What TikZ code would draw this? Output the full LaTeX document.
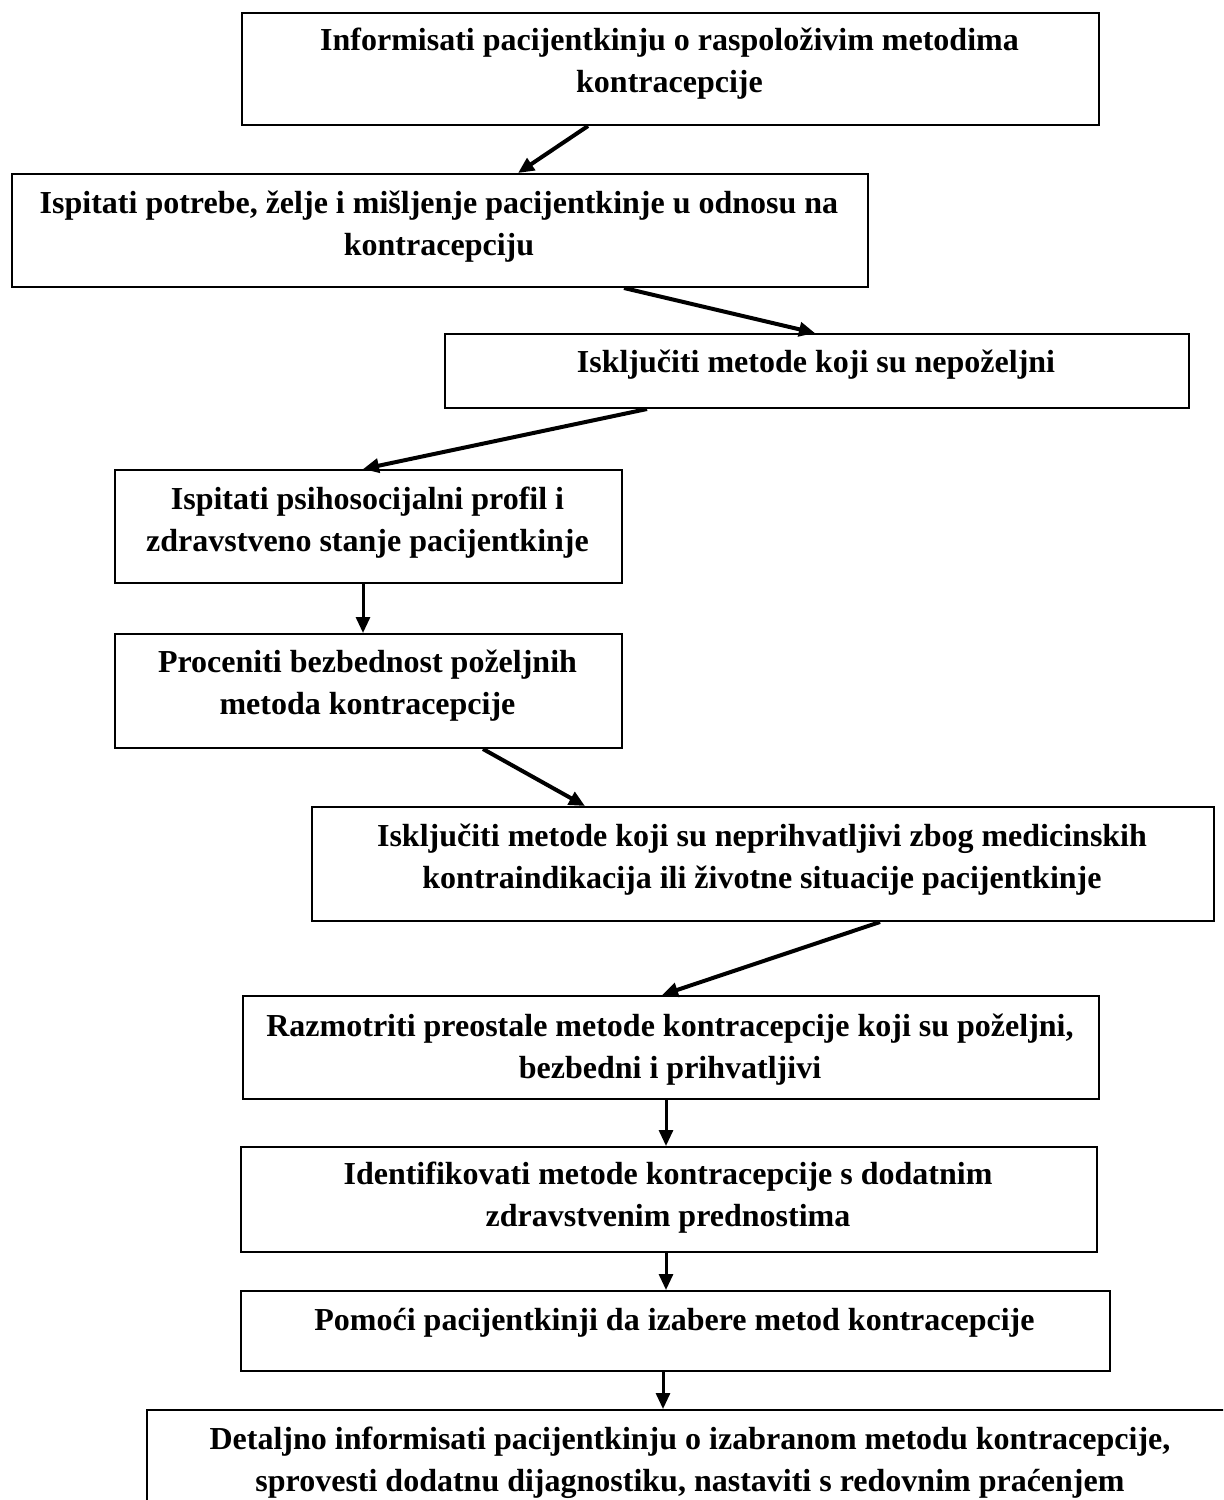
\documentclass[tikz,border=0pt]{standalone}
\usepackage{fontspec}
\setmainfont{Liberation Serif}
\usetikzlibrary{arrows.meta}
\newcommand\mkbox[5]{\node[box, minimum width={(#4-#2)*0.5pt}, minimum height={(#5-#3)*0.5pt}] (#1) at (#2,#3) {};}
\begin{document}
\begin{tikzpicture}[x=0.5pt,y=-0.5pt,
  box/.style={draw, line width=1pt, inner sep=0pt, anchor=north west},
  txt/.style={align=center, font=\fontsize{16}{21}\selectfont\bfseries, inner sep=0pt},
  arr/.style={line width=2pt, -{Triangle[length=8pt,width=7pt]}},
  varr/.style={line width=1.5pt, -{Triangle[length=8pt,width=7pt]}}]
\useasboundingbox (0,0) rectangle (1223,1500);
\clip (0,0) rectangle (1223,1500);
\fill[white] (0,0) rectangle (1223,1500);
% boxes
\mkbox{b1}{241}{12}{1098}{124}
\mkbox{b2}{11}{173}{867}{286}
\mkbox{b3}{444}{333}{1188}{407}
\mkbox{b4}{114}{469}{621}{582}
\mkbox{b5}{114}{633}{621}{747}
\mkbox{b6}{311}{806}{1213}{920}
\mkbox{b7}{242}{995}{1098}{1098}
\mkbox{b8}{240}{1146}{1096}{1251}
\mkbox{b9}{240}{1290}{1109}{1370}
\mkbox{b10}{146}{1409}{1234}{1540}
% texts
\node[txt] (t1) at (669.5,64) {Informisati pacijentkinju o raspoloživim metodima\\kontracepcije};
\node[txt] (t2) at (439,226.5) {Ispitati potrebe, želje i mišljenje pacijentkinje u odnosu na\\kontracepciju};
\node[txt] (t3) at (816,365) {Isključiti metode koji su nepoželjni};
\node[txt] (t4) at (367.5,522.5) {Ispitati psihosocijalni profil i\\zdravstveno stanje pacijentkinje};
\node[txt] (t5) at (367.5,686) {Proceniti bezbednost poželjnih\\metoda kontracepcije};
\node[txt] (t6) at (762,859.5) {Isključiti metode koji su neprihvatljivi zbog medicinskih\\kontraindikacija ili životne situacije pacijentkinje};
\node[txt] (t7) at (670,1050) {Razmotriti preostale metode kontracepcije koji su poželjni,\\bezbedni i prihvatljivi};
\node[txt] (t8) at (668,1197.5) {Identifikovati metode kontracepcije s dodatnim\\zdravstvenim prednostima};
\node[txt] (t9) at (674.5,1323) {Pomoći pacijentkinji da izabere metod kontracepcije};
\node[txt] (t10) at (690,1463) {Detaljno informisati pacijentkinju o izabranom metodu kontracepcije,\\sprovesti dodatnu dijagnostiku, nastaviti s redovnim praćenjem};
% arrows
\draw[arr] (b1.south -| 588,0) -- (b2.north -| 518,0);
\draw[arr] (b2.south -| 624,0) -- (b3.north -| 815,0);
\draw[arr] (b3.south -| 647,0) -- (b4.north -| 363,0);
\draw[varr] (b4.south -| 363,0) -- (b5.north -| 363,0);
\draw[arr] (b5.south -| 483,0) -- (b6.north -| 585,0);
\draw[arr] (b6.south -| 880,0) -- (b7.north -| 662,0);
\draw[varr] (b7.south -| 666,0) -- (b8.north -| 666,0);
\draw[varr] (b8.south -| 666,0) -- (b9.north -| 666,0);
\draw[varr] (b9.south -| 663,0) -- (b10.north -| 663,0);
\end{tikzpicture}
\end{document}
